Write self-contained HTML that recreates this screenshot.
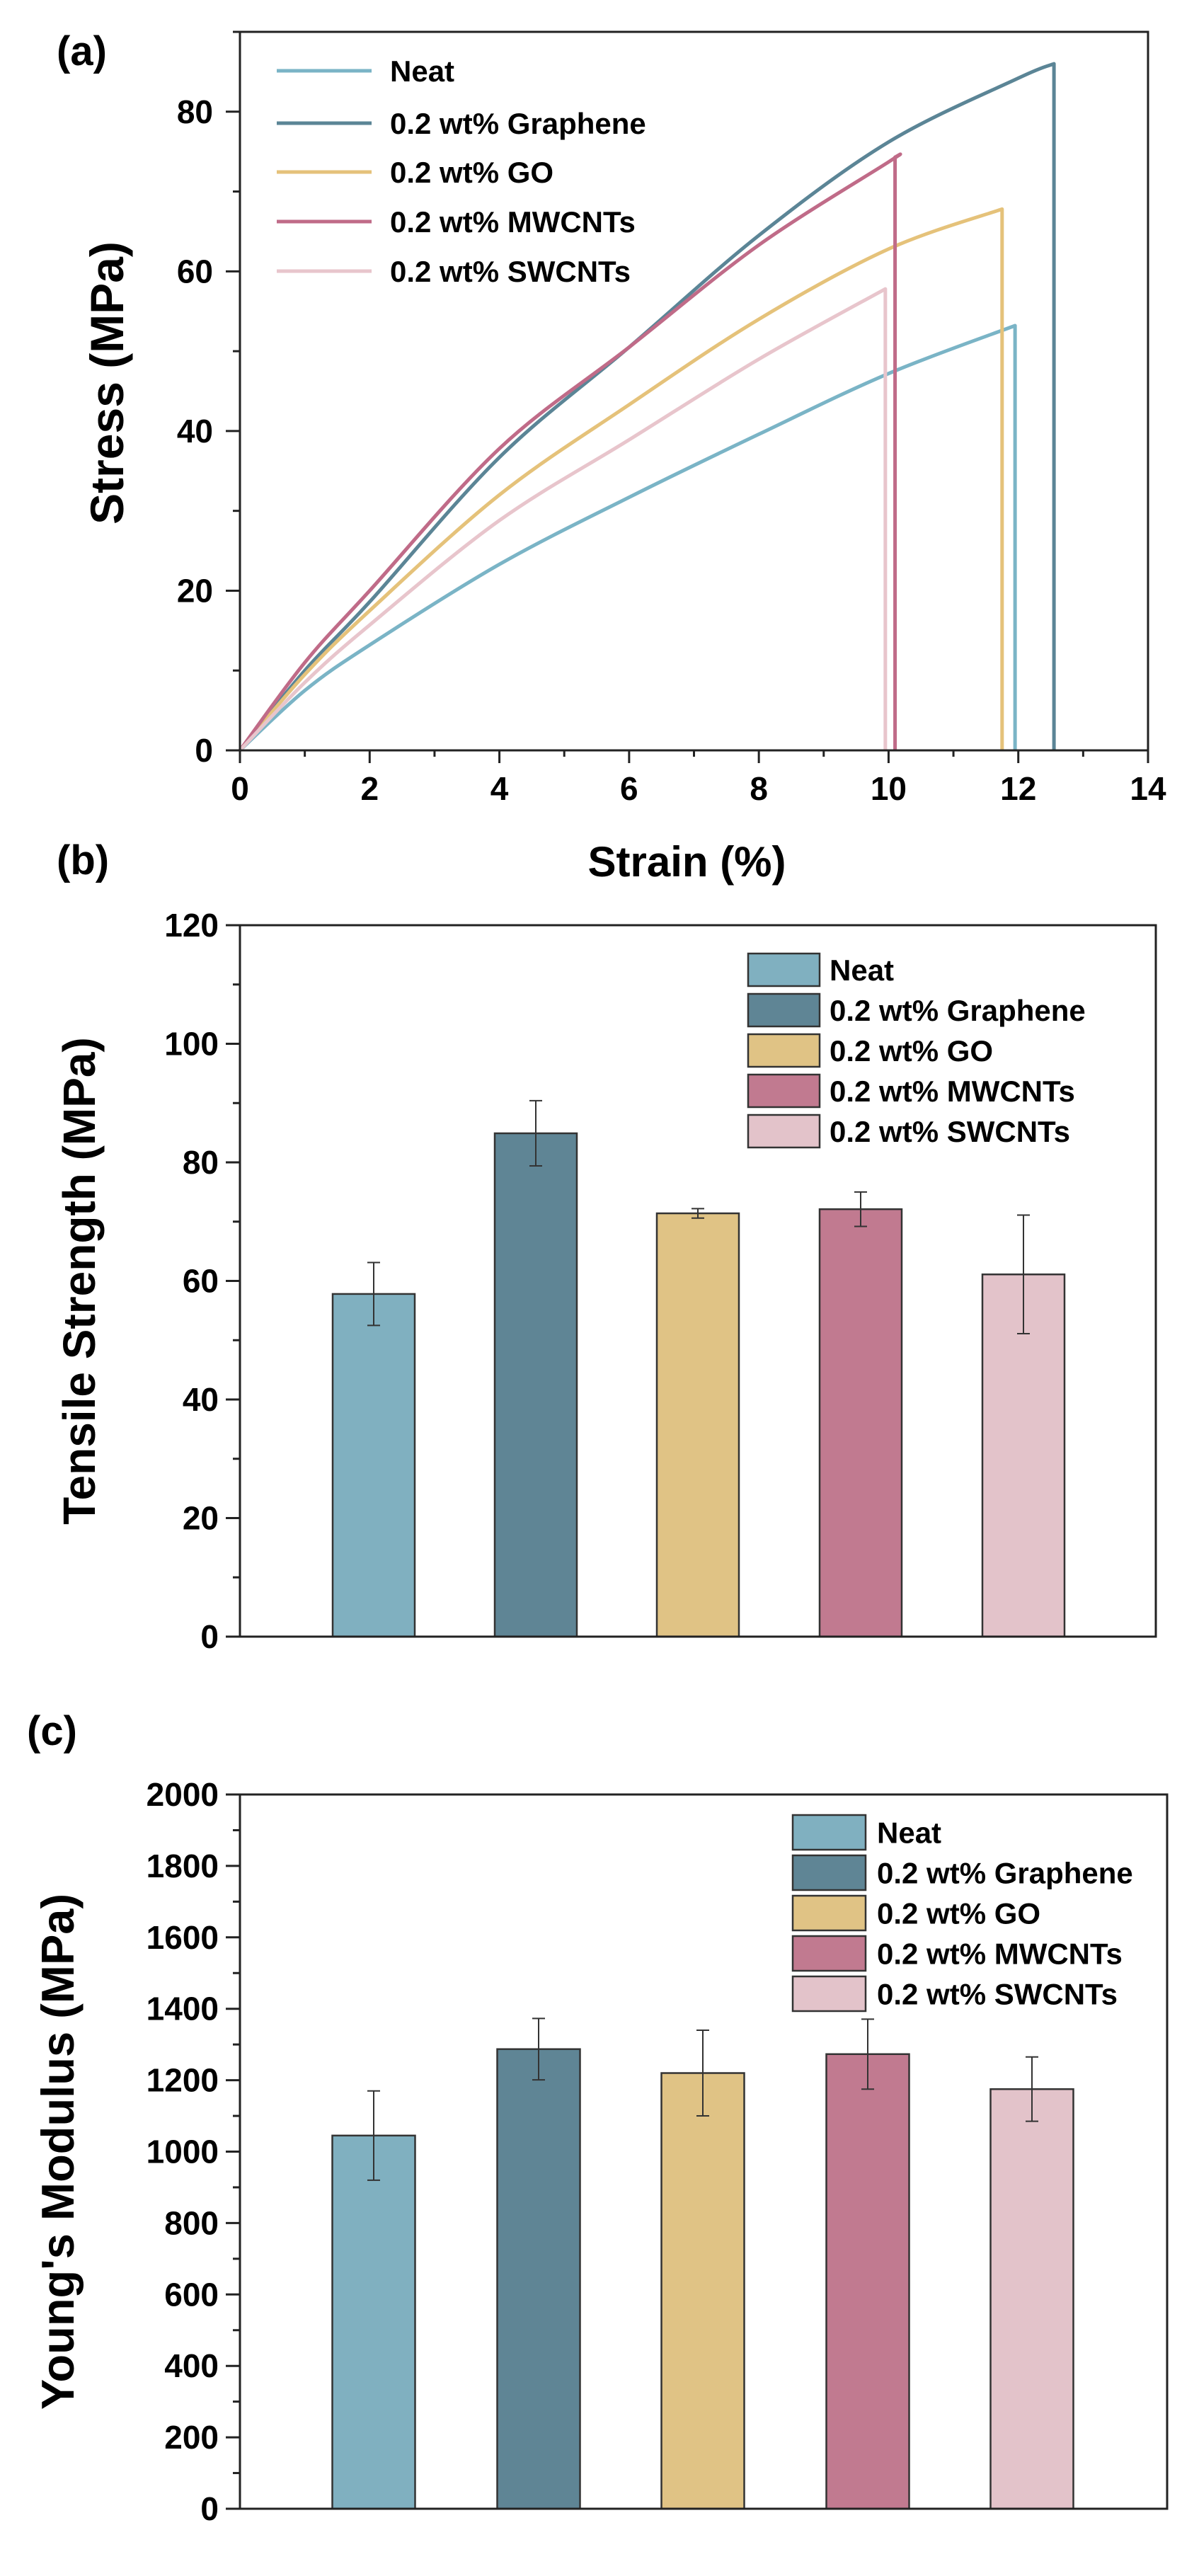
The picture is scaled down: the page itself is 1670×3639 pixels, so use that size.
<!DOCTYPE html>
<html><head><meta charset="utf-8"><style>
html,body{margin:0;padding:0;background:#fff;}
svg{display:block;font-family:"Liberation Sans",Arial,sans-serif;}
</style></head><body>
<svg id="fig" width="1670" height="3639" viewBox="0 0 1670 3639" xmlns="http://www.w3.org/2000/svg"></svg>
<script>
// ---- data ----
const seriesNames = ["Neat","0.2 wt% Graphene","0.2 wt% GO","0.2 wt% MWCNTs","0.2 wt% SWCNTs"];
const lineColors = ["#7ab4c6","#5b8596","#e5c27a","#c06b88","#e8c5cc"];
const barColors = ["#80b0c0","#5f8595","#e0c385","#c17a90","#e3c3ca"];
const neatX = [0,1,2,4,6,8,10,11.95];
const neatY = [0,7.5,13.2,23.3,31.7,39.6,47.2,53.2];
const grapheneX = [0,1,2,4,6,8,10,12,12.55];
const grapheneY = [0,10,18.6,36.7,50.5,64.5,76.2,84.2,86];
const goX = [0,1,2,4,6,8,10,11.75];
const goY = [0,9.5,17.5,32,43.3,54,62.8,67.8];
const mwX = [0,1,2,4,6,8,10,10.1];
const mwY = [0,11,20,37.8,50.5,63.3,73.7,74.3];
const swX = [0,1,2,4,6,8,9.95];
const swY = [0,8.5,15.7,28.8,38.9,49,57.8];
const strainXTicks = [0,2,4,6,8,10,12,14];
const stressYTicks = [0,20,40,60,80];
const tensileVals = [57.8,84.9,71.4,72.1,61.1];
const tensileErr = [5.3,5.5,0.8,2.9,10];
const tensileTicks = [0,20,40,60,80,100,120];
const modulusVals = [1045,1287,1220,1273,1175];
const modulusErr = [125,86,120,98,90];
const modulusTicks = [0,200,400,600,800,1000,1200,1400,1600,1800,2000];

const NS="http://www.w3.org/2000/svg";
const svg=document.getElementById('fig');
function mk(tag,attrs,parent){const e=document.createElementNS(NS,tag);for(const k in attrs)e.setAttribute(k,attrs[k]);(parent||svg).appendChild(e);return e;}
function txt(s,attrs,parent){const e=mk('text',attrs,parent);e.textContent=s;return e;}

// ---------- Panel (a) ----------
(function(){
const L=339,R=1622,T=45,B=1060, xmax=14, ymax=90;
const sx=v=>L+(v/xmax)*(R-L), sy=v=>B-(v/ymax)*(B-T);
const g=mk('g',{});


const lbl=txt('(a)',{x:80,y:92,'font-size':58,'font-weight':'bold'},g);

const series=[[neatX,neatY],[grapheneX,grapheneY],[goX,goY],[mwX,mwY],[swX,swY]];
series.forEach((s,i)=>{
  const xs=s[0],ys=s[1];
  const P=xs.map((x,j)=>[sx(x),sy(ys[j])]);
  let d='M'+P[0][0]+','+P[0][1];
  for(let j=0;j<P.length-1;j++){
    const p0=P[Math.max(0,j-1)],p1=P[j],p2=P[j+1],p3=P[Math.min(P.length-1,j+2)];
    const c1=[p1[0]+(p2[0]-p0[0])/6,p1[1]+(p2[1]-p0[1])/6];
    const c2=[p2[0]-(p3[0]-p1[0])/6,p2[1]-(p3[1]-p1[1])/6];
    d+=` C${c1[0]},${c1[1]} ${c2[0]},${c2[1]} ${p2[0]},${p2[1]}`;
  }
  const last=P[P.length-1];
  d+=` L${last[0]},${sy(0)}`;
  const p=mk('path',{d:d,fill:'none',stroke:lineColors[i],'stroke-width':5,'stroke-linejoin':'round'},g);
  
  
});
const fr=mk('rect',{x:L,y:T,width:R-L,height:B-T,fill:'none',stroke:'#222','stroke-width':3},g);

for(let v=0;v<=xmax;v+=1){const maj=v%2===0;mk('line',{x1:sx(v),x2:sx(v),y1:B,y2:B+(maj?18:9),stroke:'#222','stroke-width':3},g);}
strainXTicks.forEach(v=>{const t=txt(v,{x:sx(v),y:B+70,'font-size':46,'font-weight':'bold','text-anchor':'middle'},g);
  });
for(let v=0;v<=ymax;v+=10){const maj=v%20===0;mk('line',{x1:L,x2:L-(maj?20:10),y1:sy(v),y2:sy(v),stroke:'#222','stroke-width':3},g);}
stressYTicks.forEach(v=>{const t=txt(v,{x:L-38,y:sy(v)+16,'font-size':46,'font-weight':'bold','text-anchor':'end'},g);
  });
const xt=txt('Strain (%)',{x:(L+R)/2-10,y:1238,'font-size':60,'font-weight':'bold','text-anchor':'middle'},g);

const yt=txt('Stress (MPa)',{x:0,y:0,'font-size':66,'font-weight':'bold','text-anchor':'middle',transform:`translate(174,541) rotate(-90)`},g);

const ly=[100,174,243,313,383];
seriesNames.forEach((n,i)=>{
  const le=mk('g',{},g);
  
  mk('line',{x1:391,x2:525,y1:ly[i],y2:ly[i],stroke:lineColors[i],'stroke-width':5},le);
  txt(n,{x:551,y:ly[i]+15,'font-size':42,'font-weight':'bold'},le);
});
})();

// ---------- bar chart helper ----------
function barChart(o){
const {L,R,T,B,ymax,minor,major,ticks,vals,errs,centers,bw,leg,name,panel,plx,ply,title,titleX,fs}=o;
const sy=v=>B-(v/ymax)*(B-T);
const g=mk('g',{});


const lb=txt(panel,{x:plx,y:ply,'font-size':58,'font-weight':'bold'},g);

vals.forEach((v,i)=>{
  const r=mk('rect',{x:centers[i]-bw/2,y:sy(v),width:bw,height:sy(0)-sy(v),fill:barColors[i],stroke:'#333','stroke-width':2.5},g);
  
  const e=errs[i],cx=centers[i];
  const eg=mk('g',{stroke:'#333','stroke-width':2},g);
  
  mk('line',{x1:cx,x2:cx,y1:sy(v+e),y2:sy(v-e)},eg);
  mk('line',{x1:cx-9,x2:cx+9,y1:sy(v+e),y2:sy(v+e)},eg);
  mk('line',{x1:cx-9,x2:cx+9,y1:sy(v-e),y2:sy(v-e)},eg);
});
const fr=mk('rect',{x:L,y:T,width:R-L,height:B-T,fill:'none',stroke:'#222','stroke-width':3},g);

for(let v=0;v<=ymax+0.001;v+=minor){const maj=Math.abs(v/major-Math.round(v/major))<1e-6;mk('line',{x1:L,x2:L-(maj?20:10),y1:sy(v),y2:sy(v),stroke:'#222','stroke-width':3},g);}
ticks.forEach(v=>{const t=txt(v,{x:L-30,y:sy(v)+16,'font-size':46,'font-weight':'bold','text-anchor':'end'},g);
  });
const yt=txt(title,{x:0,y:0,'font-size':fs,'font-weight':'bold','text-anchor':'middle',transform:`translate(${titleX},${(T+B)/2}) rotate(-90)`},g);

seriesNames.forEach((n,i)=>{
  const le=mk('g',{},g);
  
  const y=leg.y+i*leg.dy;
  mk('rect',{x:leg.x,y:y,width:leg.w,height:leg.h,fill:barColors[i],stroke:'#333','stroke-width':2.5},le);
  txt(n,{x:leg.tx,y:y+leg.h/2+15,'font-size':42,'font-weight':'bold'},le);
});
}
barChart({L:339,R:1633,T:1307,B:2312,ymax:120,minor:10,major:20,ticks:tensileTicks,vals:tensileVals,errs:tensileErr,
  centers:[528,757,986,1216,1446],bw:116,leg:{x:1057,y:1347,w:101,h:46,dy:57,tx:1172},
  name:'tensile-strength-chart',panel:'(b)',plx:80,ply:1235,title:'Tensile Strength (MPa)',titleX:134,fs:64});
barChart({L:339,R:1649,T:2535,B:3544,ymax:2000,minor:100,major:200,ticks:modulusTicks,vals:modulusVals,errs:modulusErr,
  centers:[528,761,993,1226,1458],bw:117,leg:{x:1120,y:2564,w:103,h:49,dy:57,tx:1239},
  name:'youngs-modulus-chart',panel:'(c)',plx:38,ply:2465,title:"Young's Modulus (MPa)",titleX:104,fs:65});
</script>
</body></html>
